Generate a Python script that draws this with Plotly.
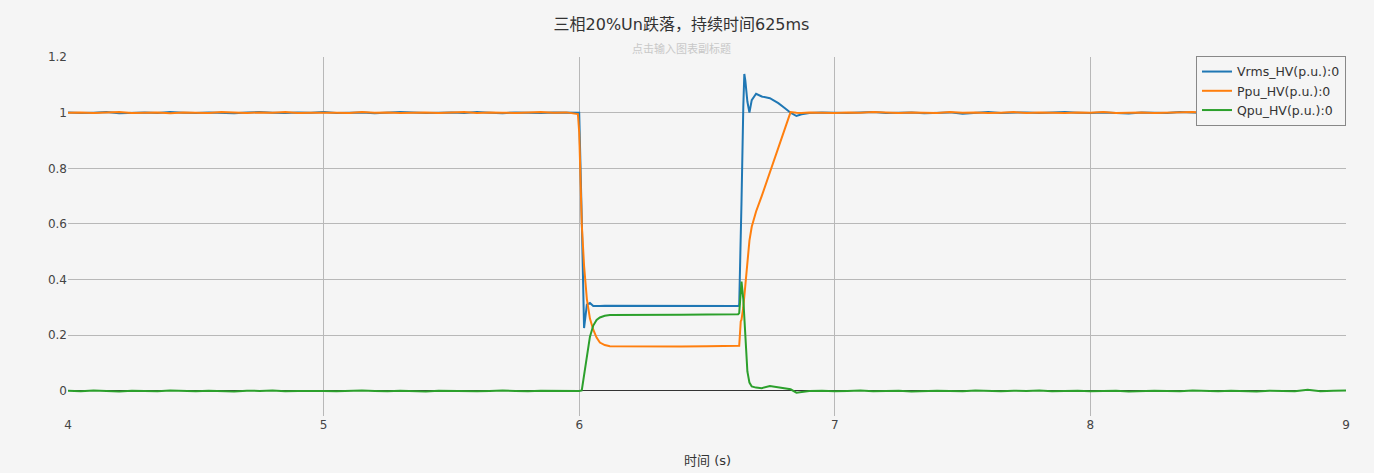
import plotly.graph_objects as go

# time axis (s): flat part before the dip, the dip/recovery, flat part after
time_s = [
    4.00, 4.05, 4.10, 4.15, 4.20, 4.25, 4.30, 4.35, 4.40, 4.45,
    4.50, 4.55, 4.60, 4.65, 4.70, 4.75, 4.80, 4.85, 4.90, 4.95,
    5.00, 5.05, 5.10, 5.15, 5.20, 5.25, 5.30, 5.35, 5.40, 5.45,
    5.50, 5.55, 5.60, 5.65, 5.70, 5.75, 5.80, 5.85, 5.90, 5.95,
    5.995, 6.000, 6.010, 6.019, 6.030, 6.042, 6.055, 6.068, 6.081, 6.100,
    6.120, 6.200, 6.300, 6.400, 6.500, 6.600, 6.622, 6.626, 6.632, 6.635,
    6.642, 6.646, 6.650, 6.658, 6.666, 6.675, 6.692, 6.714, 6.746, 6.779,
    6.805, 6.827, 6.850, 6.870, 6.900, 6.95,
    7.00, 7.05, 7.10, 7.15, 7.20, 7.25, 7.30, 7.35, 7.40, 7.45,
    7.50, 7.55, 7.60, 7.65, 7.70, 7.75, 7.80, 7.85, 7.90, 7.95,
    8.00, 8.05, 8.10, 8.15, 8.20, 8.25, 8.30, 8.35, 8.40, 8.45,
    8.50, 8.55, 8.60, 8.65, 8.70, 8.75, 8.80, 8.85, 8.90, 8.95,
    9.00,
]

vrms_hv = [
    1.001, 0.999, 1.000, 1.002, 0.998, 1.000, 1.001, 0.999, 1.002, 1.000,
    0.999, 1.001, 1.000, 0.998, 1.001, 1.002, 1.000, 0.999, 1.001, 1.000,
    1.002, 0.999, 1.000, 1.001, 0.998, 1.000, 1.002, 1.001, 0.999, 1.000,
    1.001, 0.999, 1.002, 1.000, 0.998, 1.001, 1.000, 0.999, 1.001, 1.000,
    1.000, 1.000, 0.620, 0.226, 0.310, 0.316, 0.305, 0.304, 0.305, 0.306,
    0.306, 0.305, 0.306, 0.305, 0.306, 0.305, 0.305, 0.310, 0.500, 0.680,
    1.020, 1.139, 1.115, 1.040, 1.000, 1.045, 1.068, 1.058, 1.052, 1.034,
    1.016, 1.000, 0.988, 0.994, 0.999, 1.001,
    1.000, 0.999, 1.001, 1.002, 0.999, 1.000, 1.001, 0.998, 1.000, 1.001,
    0.996, 1.000, 1.002, 0.999, 1.000, 1.001, 0.999, 1.000, 1.002, 1.000,
    0.999, 1.001, 1.000, 0.997, 1.001, 1.000, 0.999, 1.002, 1.000, 0.999,
    1.001, 1.000, 0.999, 1.001, 1.002, 1.000, 0.999, 1.001, 1.000, 0.999,
    1.000,
]

ppu_hv = [
    1.000, 1.001, 0.999, 1.000, 1.002, 0.999, 1.000, 1.001, 0.998, 1.001,
    1.000, 0.999, 1.002, 1.000, 0.999, 1.001, 1.000, 1.002, 0.999, 1.000,
    1.001, 1.000, 0.999, 1.002, 1.000, 1.001, 0.999, 1.000, 1.001, 0.999,
    1.000, 1.002, 0.999, 1.001, 1.000, 0.999, 1.001, 1.002, 1.000, 1.001,
    0.995, 0.930, 0.600, 0.450, 0.330, 0.260, 0.220, 0.192, 0.174, 0.165,
    0.161, 0.160, 0.161, 0.160, 0.161, 0.160, 0.161, 0.162, 0.250, 0.256,
    0.300, 0.340, 0.370, 0.460, 0.540, 0.590, 0.645, 0.700, 0.787, 0.877,
    0.947, 1.002, 1.000, 0.999, 1.001, 1.000,
    0.999, 1.001, 1.000, 1.002, 1.000, 0.999, 1.001, 1.000, 0.999, 1.002,
    1.000, 1.001, 0.999, 1.000, 1.002, 0.999, 1.001, 1.000, 0.999, 1.001,
    1.000, 1.002, 0.999, 1.000, 1.001, 0.999, 1.000, 1.001, 1.002, 0.999,
    1.000, 1.001, 0.999, 1.000, 1.002, 1.000, 0.999, 1.001, 1.000, 1.001,
    1.000,
]

qpu_hv = [
    0.001, -0.001, 0.002, 0.000, -0.002, 0.001, 0.000, -0.001, 0.002, 0.000,
    -0.001, 0.001, 0.000, -0.002, 0.001, 0.000, 0.002, -0.001, 0.000, 0.001,
    0.000, -0.001, 0.001, 0.002, 0.000, -0.001, 0.001, 0.000, -0.002, 0.001,
    0.000, 0.001, -0.001, 0.000, 0.002, 0.000, -0.001, 0.001, 0.000, -0.001,
    0.000, 0.000, 0.002, 0.060, 0.130, 0.195, 0.235, 0.255, 0.264, 0.270,
    0.273, 0.274, 0.275, 0.274, 0.275, 0.276, 0.276, 0.280, 0.360, 0.393,
    0.330, 0.260, 0.180, 0.070, 0.030, 0.016, 0.012, 0.010, 0.018, 0.014,
    0.011, 0.006, -0.006, -0.004, 0.000, 0.001,
    -0.001, 0.000, 0.002, -0.001, 0.000, 0.001, -0.002, 0.000, 0.001, 0.000,
    -0.001, 0.002, 0.000, -0.001, 0.001, 0.000, 0.002, -0.001, 0.000, 0.001,
    -0.001, 0.000, 0.001, -0.002, 0.000, 0.001, 0.000, -0.001, 0.002, 0.000,
    -0.001, 0.001, 0.000, -0.002, 0.001, 0.000, -0.001, 0.004, -0.001, 0.001,
    0.002,
]

series = [
    ("Vrms_HV(p.u.):0", vrms_hv, "#1f77b4"),
    ("Ppu_HV(p.u.):0", ppu_hv, "#ff7f0e"),
    ("Qpu_HV(p.u.):0", qpu_hv, "#2ca02c"),
]

fig = go.Figure()
for name, vals, color in series:
    fig.add_trace(go.Scatter(x=time_s, y=vals, mode="lines", name=name,
                             line=dict(color=color, width=2)))

bg = "#f5f5f5"
fnt = "DejaVu Sans, Noto Sans CJK SC, sans-serif"
fig.update_layout(
    width=1374, height=473,
    paper_bgcolor=bg, plot_bgcolor=bg,
    margin=dict(l=68, r=28, t=57, b=57),
    font=dict(family=fnt, size=12, color="#444"),
    title=dict(text="三相20%Un跌落，持续时间625ms", x=0.496, xref="container",
               y=0.949, yref="container", yanchor="middle", xanchor="center",
               font=dict(size=16, color="#333")),
    showlegend=True,
    legend=dict(x=1, xanchor="right", y=1.003, yanchor="top",
                bgcolor=bg, bordercolor="#888", borderwidth=1,
                font=dict(size=12.5, color="#333"), tracegroupgap=0),
    annotations=[
        dict(text="点击输入图表副标题", xref="paper", yref="paper", x=0.48, y=1.022,
             xanchor="center", yanchor="middle", showarrow=False,
             font=dict(size=11, color="#c8c8c8")),
        dict(text="时间 (s)", xref="paper", yref="paper", x=0.5, y=-0.1226,
             xanchor="center", yanchor="middle", showarrow=False,
             font=dict(size=13, color="#333")),
    ],
)
fig.update_xaxes(range=[4, 9], dtick=1, tick0=4, showgrid=True, gridcolor="#b8b8b8",
                 gridwidth=1, zeroline=False, showline=False, ticks="",
                 tickfont=dict(size=12, color="#444"))
fig.update_yaxes(range=[-0.09, 1.2], dtick=0.2, tick0=0, showgrid=True, gridcolor="#b8b8b8",
                 gridwidth=1, zeroline=True, zerolinecolor="#333", zerolinewidth=1,
                 showline=False, ticks="", tickfont=dict(size=12, color="#444"))

# the page has a default body margin; drop it so the figure fills the window
fig.write_html("out.html", config={"displayModeBar": False},
               post_script="document.body.style.margin='0';")
